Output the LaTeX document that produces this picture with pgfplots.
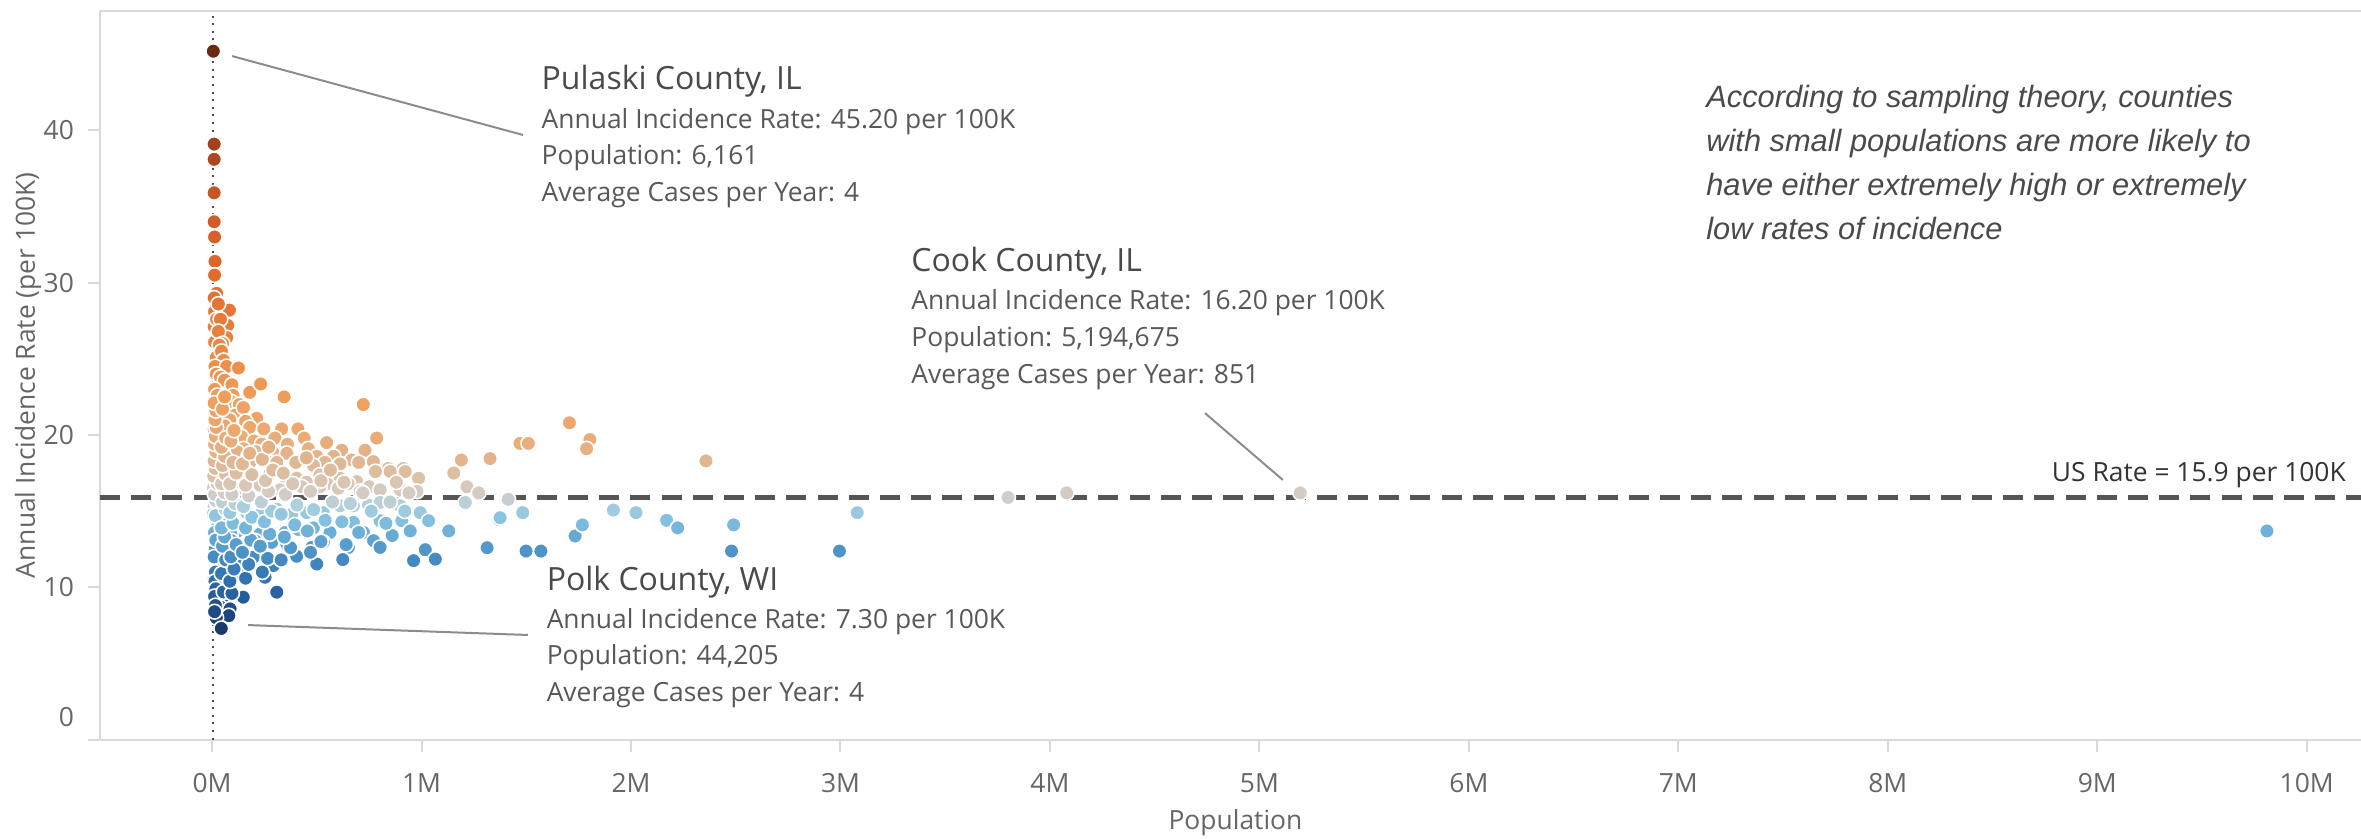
\documentclass[border=0pt]{standalone}
\usepackage{pgfplots}
\pgfplotsset{compat=1.18}
\usepackage{pgfplotstable}
\usepackage{fontspec}
\setmainfont{Open Sans}
\newfontfamily\notefont{Liberation Sans}

\definecolor{tickgray}{HTML}{666666}
\definecolor{framegray}{HTML}{D9D9D9}
\definecolor{refgray}{HTML}{555555}
\definecolor{leadgray}{HTML}{8C8C8C}
\definecolor{titlegray}{HTML}{4A4A4A}
\definecolor{detgray}{HTML}{585858}
\definecolor{notegray}{HTML}{4A4A4A}

\newcommand\titlefont{\fontsize{8}{9}\selectfont}
\newcommand\detfont{\fontsize{6.6}{8}\selectfont}

% population (millions), annual incidence rate (per 100K)
\pgfplotstableread{
x y
0.006 45.2
0.010 39.1
0.010 38.1
0.010 35.9
0.010 34.0
0.012 33.0
0.014 31.4
0.012 30.5
0.022 29.3
0.010 29.0
0.012 28.1
0.083 28.2
0.030 28.6
0.010 27.1
0.075 27.2
0.022 27.6
0.040 27.6
0.012 26.1
0.070 26.4
0.030 26.8
0.050 26.0
0.035 25.9
0.020 25.1
0.045 25.5
0.055 24.9
0.014 24.5
0.070 24.5
0.126 24.4
0.020 24.0
0.040 23.8
0.060 23.6
0.012 23.0
0.095 23.3
0.180 22.8
0.232 23.35
0.025 22.6
0.100 22.6
0.046 22.2
0.090 22.2
0.130 22.0
0.344 22.5
0.722 22.0
0.012 21.3
0.030 21.8
0.060 21.4
0.110 21.3
0.150 21.8
0.213 21.1
0.045 20.9
0.085 21.0
0.160 20.9
0.010 20.4
0.060 20.6
0.110 20.2
0.180 20.5
0.247 20.4
0.332 20.4
0.410 20.4
0.020 19.8
0.140 19.9
0.300 19.8
0.440 19.8
0.786 19.8
0.200 19.6
0.547 19.5
0.080 19.4
0.237 19.4
0.360 19.4
0.030 19.3
0.150 19.1
0.460 19.1
0.619 19.0
0.730 19.0
0.070 19.0
0.040 18.9
0.120 18.9
0.210 18.9
0.022 18.6
0.173 18.6
0.500 18.6
0.580 18.6
0.293 18.8
0.357 18.8
0.086 18.25
0.428 18.36
0.667 18.36
0.770 18.25
0.539 18.2
0.280 18.2
0.700 18.2
0.181 18.2
0.309 18.2
0.396 18.1
0.611 18.1
0.484 18.0
0.060 17.9
0.842 17.8
0.913 17.8
0.022 17.49
0.102 17.38
0.165 17.6
0.277 17.49
0.404 17.16
0.515 17.38
0.611 17.16
0.691 16.94
0.850 17.6
0.922 17.6
0.986 17.16
0.130 17.6
0.015 17.0
0.050 16.9
0.200 17.0
0.250 16.9
0.350 16.7
0.450 16.9
0.550 16.8
0.650 16.8
0.750 16.6
0.006 16.5
0.133 16.5
0.229 16.7
0.325 16.4
0.428 16.6
0.515 16.6
0.603 16.5
0.707 16.3
0.802 16.4
0.898 16.4
0.978 16.3
1.190 18.36
1.327 18.45
1.154 17.5
1.217 16.6
1.273 16.2
1.470 19.45
1.510 19.45
1.706 20.8
1.804 19.7
1.788 19.1
2.358 18.3
1.414 15.78
3.800 15.9
4.080 16.2
5.195 16.2
0.010 15.3
0.006 14.8
0.054 14.9
0.165 14.9
0.229 14.8
0.309 15.13
0.380 14.8
0.452 14.9
0.531 14.9
0.611 15.35
0.675 15.35
0.747 15.4
0.802 15.57
0.898 15.35
0.994 14.9
1.034 14.37
1.209 15.57
1.369 14.45
0.030 15.0
0.050 14.5
0.020 14.2
0.070 14.1
0.022 13.9
0.124 13.7
0.229 13.5
0.349 13.6
0.412 13.8
0.484 13.9
0.563 13.6
0.675 14.26
0.723 13.6
0.802 14.37
0.906 14.37
0.946 13.7
1.130 13.7
0.040 13.4
0.090 13.5
0.022 12.95
0.094 13.06
0.133 12.73
0.205 13.06
0.285 12.95
0.357 12.84
0.476 12.62
0.531 12.95
0.651 12.62
0.771 13.06
0.802 12.62
1.018 12.47
1.313 12.6
0.015 12.5
0.060 12.3
0.110 12.5
0.022 11.75
0.086 12.08
0.197 11.97
0.293 11.43
0.404 12.04
0.500 11.53
0.624 11.82
0.962 11.75
1.066 11.85
0.030 11.3
0.070 11.4
0.120 11.8
0.038 10.77
0.149 10.88
0.253 10.66
0.010 10.6
0.050 10.2
0.100 10.9
0.022 9.79
0.086 10.22
0.309 9.68
0.149 9.35
0.030 9.5
0.022 9.13
0.060 9.0
0.040 8.7
0.086 8.58
0.022 8.19
0.080 8.14
0.020 8.0
0.044 7.3
1.375 14.57
1.483 14.9
1.499 12.38
1.570 12.38
1.733 13.37
1.768 14.1
1.916 15.07
2.024 14.9
2.170 14.4
2.223 13.9
2.490 14.1
2.480 12.38
2.995 12.38
3.080 14.9
9.810 13.7
0.018 15.7
0.012 16.1
0.025 16.8
0.008 17.3
0.016 17.8
0.010 18.3
0.018 18.9
0.012 19.4
0.016 19.9
0.020 20.5
0.014 21.0
0.018 21.6
0.010 22.1
0.016 14.7
0.012 13.6
0.018 13.1
0.010 12.0
0.016 11.0
0.014 10.4
0.018 9.9
0.012 9.4
0.016 8.8
0.012 8.4
0.055 9.7
0.045 10.9
0.065 11.8
0.050 12.7
0.060 13.3
0.045 13.9
0.065 15.1
0.050 15.6
0.060 16.2
0.045 16.8
0.065 17.4
0.050 18.0
0.060 18.6
0.045 19.2
0.065 19.8
0.050 21.7
0.060 22.5
0.095 9.6
0.085 10.4
0.105 11.2
0.090 12.0
0.115 12.8
0.100 14.2
0.085 14.9
0.110 15.5
0.095 16.1
0.085 16.8
0.115 17.5
0.100 18.2
0.090 19.6
0.105 20.3
0.160 10.6
0.175 11.5
0.145 12.3
0.185 13.1
0.160 13.9
0.190 14.6
0.150 15.3
0.175 16.0
0.160 16.7
0.190 17.4
0.145 18.1
0.180 18.8
0.240 11.0
0.265 11.9
0.230 12.7
0.275 13.5
0.250 14.3
0.285 15.0
0.235 15.6
0.270 16.3
0.255 17.0
0.290 17.7
0.240 18.4
0.270 19.2
0.330 11.8
0.375 12.6
0.345 13.3
0.395 14.1
0.330 14.8
0.405 15.4
0.350 16.1
0.385 16.8
0.340 17.5
0.400 18.2
0.470 12.3
0.520 13.0
0.455 13.7
0.540 14.4
0.485 15.1
0.575 15.6
0.470 16.3
0.520 17.0
0.565 17.7
0.450 18.5
0.640 12.8
0.700 13.6
0.620 14.3
0.760 15.0
0.660 15.5
0.720 16.2
0.630 16.9
0.780 17.6
0.860 13.4
0.830 14.2
0.920 15.0
0.850 15.6
0.940 16.2
0.880 16.9
}\counties

\begin{document}
\begin{tikzpicture}[x=1pt,y=1pt]
\useasboundingbox (0,0) rectangle (590.25,209.5);
\begin{axis}[
  at={(25pt,24.6pt)}, anchor=south west,
  scale only axis, width=570pt, height=182.15pt,
  xmin=-0.535, xmax=10.35, ymin=0, ymax=47.84,
  clip=false,
  axis line style={draw=none},
  tick pos=left, tick align=outside,
  major tick length=3pt,
  tick style={framegray, line width=0.5pt},
  xtick={0,1,2,3,4,5,6,7,8,9,10},
  xticklabels={0M,1M,2M,3M,4M,5M,6M,7M,8M,9M,10M},
  xticklabel style={yshift=-1.9pt},
  ytick={10,20,30,40},
  yticklabels={10,20,30,40},
  extra y ticks={0},
  extra y tick labels={0},
  extra y tick style={major tick length=0pt, yticklabel style={yshift=5.6pt, xshift=-3pt}},
  ticklabel style={font=\detfont, text=tickgray},
  xlabel={Population},
  ylabel={Annual Incidence Rate (per 100K)},
  label style={font=\detfont, text=tickgray},
  xlabel style={at={(axis description cs:0.498,-0.1145)}, anchor=center},
  ylabel style={at={(axis description cs:-0.0316,0.5)}, anchor=center},
  colormap={tableau}{
    rgb255(0pt)=(27,58,105);
    rgb255(10pt)=(30,72,130);
    rgb255(22pt)=(38,95,160);
    rgb255(37pt)=(55,122,182);
    rgb255(51pt)=(78,148,200);
    rgb255(62pt)=(105,172,214);
    rgb255(72pt)=(135,195,225);
    rgb255(80pt)=(170,208,222);
    rgb255(86pt)=(208,206,204);
    rgb255(93pt)=(215,200,185);
    rgb255(102pt)=(220,190,160);
    rgb255(112pt)=(226,180,140);
    rgb255(127pt)=(236,170,115);
    rgb255(147pt)=(240,160,95);
    rgb255(177pt)=(237,140,70);
    rgb255(207pt)=(230,120,55);
    rgb255(247pt)=(220,100,40);
    rgb255(286pt)=(200,85,35);
    rgb255(317pt)=(165,65,28);
    rgb255(379pt)=(105,42,20)},
  point meta min=7.3, point meta max=45.2,
]
% frame
\draw[framegray, line width=0.5pt] (rel axis cs:0,1) -- (rel axis cs:1,1);
\draw[framegray, line width=0.5pt] (rel axis cs:0,0) -- (rel axis cs:0,1);
\draw[framegray, line width=0.5pt] ([xshift=-3pt]rel axis cs:0,0) -- (rel axis cs:1,0);
% reference line through the small counties
\draw[black!70, line width=0.5pt, dash pattern=on 0.5pt off 1.4pt] (axis cs:0.006,0) -- (axis cs:0.006,47.84);

\addplot[scatter, only marks, mark=*, mark size=1.85pt, point meta=y,
  scatter/use mapped color={draw=white, fill=mapped color},
  mark options={line width=0.4pt}] table[x=x, y=y] {\counties};

% US rate
\addplot[refgray, line width=1.1pt, dash pattern=on 5pt off 2.8pt] coordinates {(-0.535,15.9) (10.35,15.9)};
\node[anchor=base west, inner sep=0, font=\detfont, text=black!80] at (axis cs:8.78,16.93) {US Rate = 15.9 per 100K};

% leader lines
\draw[leadgray, line width=0.5pt] (axis cs:0.0955,44.88) -- (axis cs:1.4845,39.70);
\draw[leadgray, line width=0.5pt] (axis cs:0.172,7.52) -- (axis cs:1.508,6.87);
\draw[leadgray, line width=0.5pt] (axis cs:4.74,21.44) -- (axis cs:5.112,17.05);

% annotations
\node[anchor=base west, inner sep=0, font=\titlefont, text=titlegray] at (axis cs:1.570,42.71) {Pulaski County, IL};
\node[anchor=base west, inner sep=0, font=\detfont, text=detgray] at (axis cs:1.570,40.15) {Annual Incidence Rate: 45.20 per 100K};
\node[anchor=base west, inner sep=0, font=\detfont, text=detgray] at (axis cs:1.570,37.73) {Population: 6,161};
\node[anchor=base west, inner sep=0, font=\detfont, text=detgray] at (axis cs:1.570,35.30) {Average Cases per Year: 4};

\node[anchor=base west, inner sep=0, font=\titlefont, text=titlegray] at (axis cs:3.335,30.72) {Cook County, IL};
\node[anchor=base west, inner sep=0, font=\detfont, text=detgray] at (axis cs:3.335,28.21) {Annual Incidence Rate: 16.20 per 100K};
\node[anchor=base west, inner sep=0, font=\detfont, text=detgray] at (axis cs:3.335,25.80) {Population: 5,194,675};
\node[anchor=base west, inner sep=0, font=\detfont, text=detgray] at (axis cs:3.335,23.39) {Average Cases per Year: 851};

\node[anchor=base west, inner sep=0, font=\titlefont, text=titlegray] at (axis cs:1.594,9.78) {Polk County, WI};
\node[anchor=base west, inner sep=0, font=\detfont, text=detgray] at (axis cs:1.594,7.28) {Annual Incidence Rate: 7.30 per 100K};
\node[anchor=base west, inner sep=0, font=\detfont, text=detgray] at (axis cs:1.594,4.90) {Population: 44,205};
\node[anchor=base west, inner sep=0, font=\detfont, text=detgray] at (axis cs:1.594,2.49) {Average Cases per Year: 4};

% note
\begin{scope}[every node/.style={anchor=base west, inner sep=0, text=notegray, font=\notefont\itshape\fontsize{7.7}{9}\selectfont}]
\node at (axis cs:7.13,41.53) {According to sampling theory, counties};
\node at (axis cs:7.13,38.64) {with small populations are more likely to};
\node at (axis cs:7.13,35.75) {have either extremely high or extremely};
\node at (axis cs:7.13,32.86) {low rates of incidence};
\end{scope}
\end{axis}
\end{tikzpicture}
\end{document}
